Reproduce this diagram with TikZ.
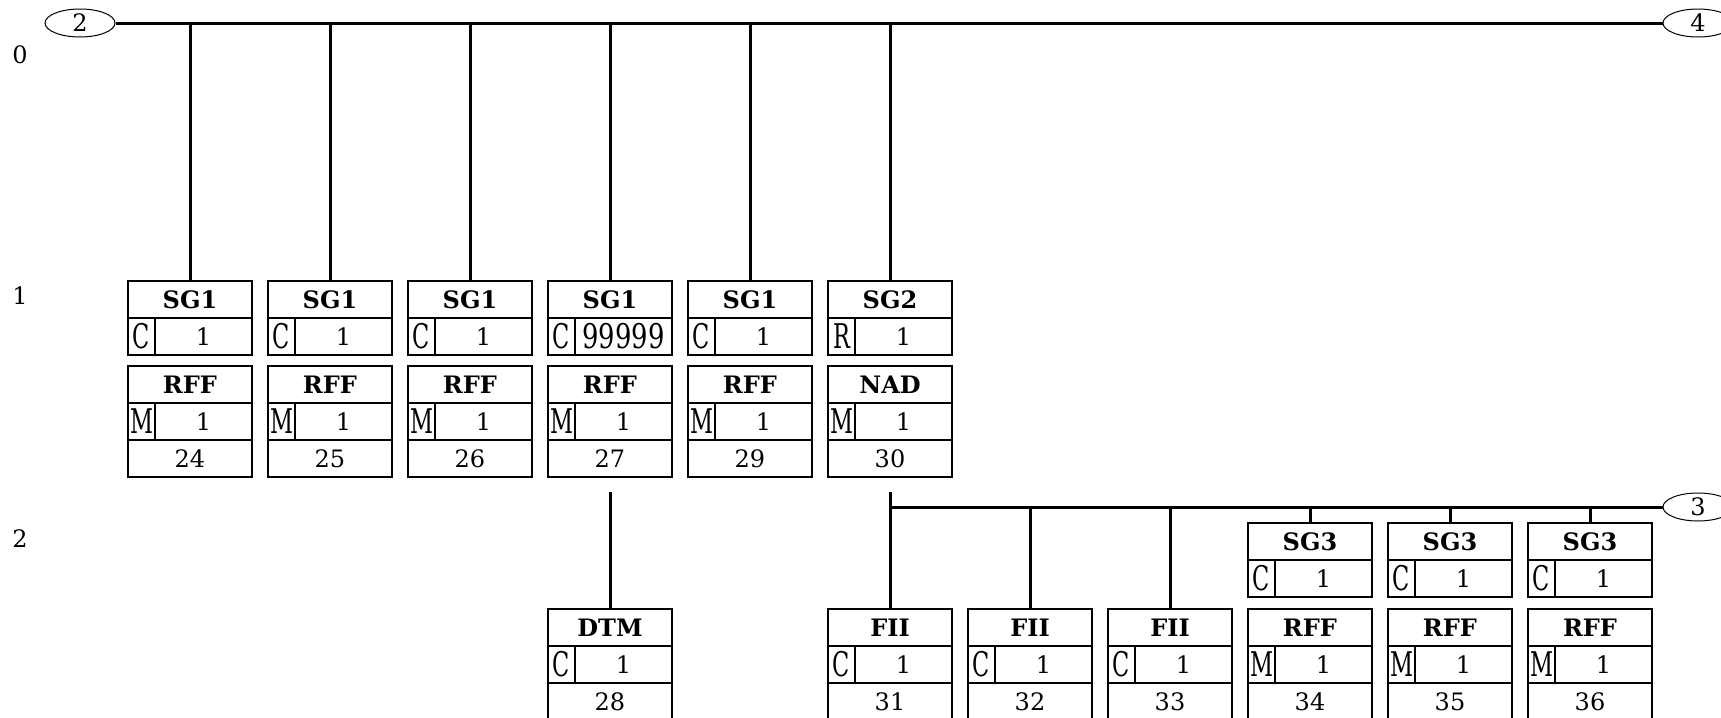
\documentclass[tikz,border=0pt]{standalone}
\usepackage{fontspec}
\setmainfont{DejaVu Serif}
\usepackage{graphicx}
\usetikzlibrary{shapes.geometric}

% status letter and wide repeat count are set tall and narrow
\newcommand{\stat}[1]{\scalebox{0.66}[1]{\fontsize{17}{18}\selectfont #1}}
\newcommand{\bigrep}[1]{\scalebox{0.76}[1]{\fontsize{17}{18}\selectfont #1}}

% group box: name, x, top, title, status, repeat
\newcommand{\grpbox}[6]{%
  \node[hdr] (#1) at (#2,#3) {\textbf{#4}};
  \node[stcell] (#1-s) at (#1.south west) {\stat{#5}};
  \node[repcell] (#1-r) at (#1-s.north east) {#6};
}
% segment box: as above plus position number
\newcommand{\segbox}[7]{%
  \grpbox{#1}{#2}{#3}{#4}{#5}{#6}
  \node[poscell] (#1-p) at (#1-s.south west) {#7};
}

\tikzset{
  bus/.style={line width=1.5pt},
  hdr/.style={draw, line width=1pt, minimum width=62pt, minimum height=18.5pt,
    inner sep=0pt, outer sep=0pt, anchor=north},
  stcell/.style={hdr, minimum width=13.5pt, anchor=north west},
  repcell/.style={hdr, minimum width=48.5pt, anchor=north west},
  poscell/.style={hdr, anchor=north west},
  conn/.style={draw, ellipse, line width=0.5pt, minimum width=35pt,
    minimum height=14pt, inner sep=0pt},
}

\begin{document}
\begin{tikzpicture}[x=0.5pt, y=-0.5pt, font=\fontsize{12}{14}\selectfont]
  \useasboundingbox (0,0) rectangle (1721,718);

  % level numbers
  \node (lvl0) at (20,55) {0};
  \node (lvl1) at (20,296) {1};
  \node (lvl2) at (20,539) {2};

  % connectors to other pages
  \node[conn] (c2) at (80,23) {2};
  \node[conn] (c4) at (1698,23) {4};
  \node[conn] (c3) at (1698,507) {3};

  % level 1
  \grpbox{sg1a}{190}{281}{SG1}{C}{1}
  \segbox{rff24}{190}{366}{RFF}{M}{1}{24}
  \grpbox{sg1b}{330}{281}{SG1}{C}{1}
  \segbox{rff25}{330}{366}{RFF}{M}{1}{25}
  \grpbox{sg1c}{470}{281}{SG1}{C}{1}
  \segbox{rff26}{470}{366}{RFF}{M}{1}{26}
  \grpbox{sg1d}{610}{281}{SG1}{C}{\bigrep{99999}}
  \segbox{rff27}{610}{366}{RFF}{M}{1}{27}
  \grpbox{sg1e}{750}{281}{SG1}{C}{1}
  \segbox{rff29}{750}{366}{RFF}{M}{1}{29}
  \grpbox{sg2}{890}{281}{SG2}{R}{1}
  \segbox{nad30}{890}{366}{NAD}{M}{1}{30}

  % level 2
  \segbox{dtm28}{610}{609}{DTM}{C}{1}{28}
  \segbox{fii31}{890}{609}{FII}{C}{1}{31}
  \segbox{fii32}{1030}{609}{FII}{C}{1}{32}
  \segbox{fii33}{1170}{609}{FII}{C}{1}{33}
  \grpbox{sg3a}{1310}{523}{SG3}{C}{1}
  \segbox{rff34}{1310}{609}{RFF}{M}{1}{34}
  \grpbox{sg3b}{1450}{523}{SG3}{C}{1}
  \segbox{rff35}{1450}{609}{RFF}{M}{1}{35}
  \grpbox{sg3c}{1590}{523}{SG3}{C}{1}
  \segbox{rff36}{1590}{609}{RFF}{M}{1}{36}

  % top bus
  \draw[bus] (c2.east) -- (c4.west);
  \foreach \n in {sg1a,sg1b,sg1c,sg1d,sg1e,sg2}
    \draw[bus] (\n.north) -- (\n.north |- c2.center);

  % second level bus
  \coordinate (dtmlink) at (610,492);
  \coordinate (nadlink) at (890,492);
  \draw[bus] (dtmlink) -- (dtm28.north);
  \draw[bus] (nadlink) -- (fii31.north);
  \draw[bus] (fii31.north |- c3.center) -- (c3.west);
  \foreach \n in {fii32,fii33,sg3a,sg3b,sg3c}
    \draw[bus] (\n.north) -- (\n.north |- c3.center);
\end{tikzpicture}
\end{document}
